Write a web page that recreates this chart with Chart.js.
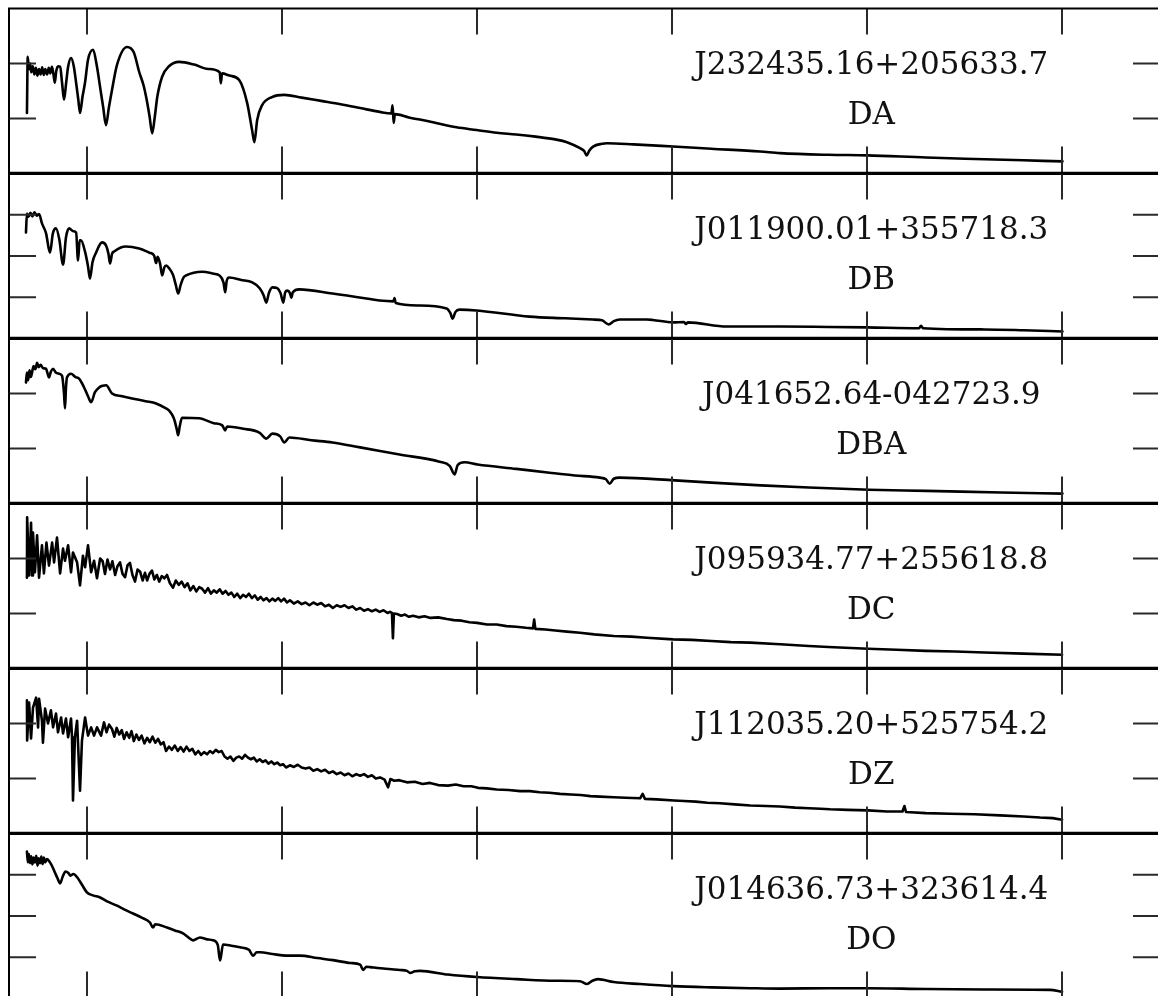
<!DOCTYPE html>
<html>
<head>
<meta charset="utf-8">
<title>White dwarf spectra</title>
<script src="https://cdn.jsdelivr.net/npm/chart.js@4.4.1/dist/chart.umd.min.js"></script>
<style>
  html, body { margin: 0; padding: 0; background: #fff; overflow: hidden; }
  #stack { position: relative; width: 1158px; height: 996px; overflow: hidden; }
  #stack canvas { position: absolute; left: 0; }
</style>
</head>
<body>
<div id="stack"></div>
<script>
// Wavelength axis (Angstrom) and tick marks
const waveMin = 3600;
const waveMax = 9500;
const waveTicks = [4000, 5000, 6000, 7000, 8000, 9000];

// Object designations and spectral classes, top to bottom
const objectNames = ['J232435.16+205633.7', 'J011900.01+355718.3', 'J041652.64-042723.9',
                     'J095934.77+255618.8', 'J112035.20+525754.2', 'J014636.73+323614.4'];
const spectralClasses = ['DA', 'DB', 'DBA', 'DC', 'DZ', 'DO'];

// Flux range and flux tick values of each panel (arbitrary flux units)
const fluxMax = [3, 4, 3, 3, 3, 4];
const fluxTicks = [[1, 2], [1, 2, 3], [1, 2], [1, 2], [1, 2], [1, 2, 3]];

// Spectra: [wavelength, flux]
const specDA = [[3692,1.10],[3696,2.12],[3702,1.90],[3708,2.00],[3714,1.84],[3722,1.95],[3730,1.80],[3738,1.92],[3746,1.78],[3754,1.90],[3762,1.80],[3770,1.93],[3778,1.79],[3786,1.90],[3795,1.80],[3804,1.92],[3812,1.82],[3820,1.94],[3828,1.80],[3835,1.65],[3842,1.86],[3852,1.95],[3862,1.94],[3872,1.65],[3882,1.34],[3893,1.65],[3903,1.94],[3918,2.10],[3932,1.95],[3944,1.65],[3955,1.35],[3964,1.10],[3977,1.40],[3990,1.66],[4005,2.07],[4031,2.25],[4051,1.94],[4067,1.57],[4083,1.20],[4097,0.88],[4112,1.20],[4128,1.52],[4154,1.98],[4205,2.30],[4240,2.20],[4267,1.85],[4290,1.60],[4303,1.39],[4320,1.05],[4334,0.73],[4348,1.05],[4360,1.39],[4385,1.76],[4420,1.95],[4472,2.03],[4550,1.98],[4620,1.90],[4680,1.84],[4686,1.64],[4692,1.82],[4730,1.78],[4780,1.70],[4821,1.28],[4846,0.79],[4858,0.57],[4872,0.97],[4897,1.24],[4948,1.39],[5011,1.43],[5100,1.38],[5200,1.32],[5300,1.26],[5400,1.19],[5500,1.12],[5560,1.09],[5566,1.24],[5572,0.92],[5578,1.08],[5650,1.02],[5750,0.95],[5894,0.84],[5997,0.79],[6100,0.74],[6200,0.71],[6300,0.67],[6400,0.62],[6460,0.57],[6527,0.46],[6548,0.41],[6561,0.33],[6575,0.42],[6594,0.49],[6640,0.54],[6665,0.55],[6800,0.53],[7003,0.49],[7200,0.45],[7450,0.40],[7552,0.37],[7800,0.34],[8000,0.33],[8300,0.29],[8600,0.26],[8800,0.24],[9000,0.22]];

const specDB = [[3687,2.57],[3692,3.03],[3700,2.95],[3710,3.05],[3720,2.96],[3730,3.06],[3742,2.98],[3754,3.02],[3769,2.79],[3790,2.55],[3810,2.08],[3825,2.55],[3841,2.67],[3858,2.40],[3877,1.79],[3892,2.45],[3908,2.67],[3930,2.60],[3944,2.57],[3954,1.89],[3962,2.38],[3969,2.38],[3990,2.10],[4005,1.75],[4015,1.45],[4028,1.85],[4046,2.08],[4077,2.33],[4098,2.25],[4110,2.05],[4118,1.82],[4128,2.05],[4139,2.11],[4200,2.23],[4267,2.18],[4320,2.08],[4344,2.01],[4354,1.83],[4362,1.98],[4375,1.80],[4385,1.53],[4396,1.72],[4406,1.77],[4421,1.70],[4440,1.55],[4455,1.30],[4467,1.09],[4480,1.30],[4495,1.48],[4508,1.53],[4590,1.62],[4650,1.57],[4678,1.53],[4700,1.35],[4708,1.12],[4716,1.40],[4729,1.48],[4790,1.42],[4847,1.36],[4885,1.22],[4905,1.05],[4919,0.87],[4932,1.10],[4950,1.24],[4975,1.22],[4992,1.10],[5006,0.87],[5016,1.12],[5027,1.16],[5040,1.10],[5047,0.99],[5055,1.12],[5088,1.19],[5258,1.09],[5432,0.97],[5499,0.92],[5570,0.90],[5576,0.98],[5582,0.86],[5700,0.80],[5843,0.73],[5862,0.62],[5874,0.48],[5888,0.64],[5909,0.70],[5997,0.68],[6269,0.53],[6450,0.49],[6592,0.46],[6640,0.44],[6674,0.34],[6700,0.42],[6731,0.46],[6869,0.46],[6900,0.45],[7003,0.39],[7060,0.40],[7070,0.35],[7080,0.39],[7280,0.29],[7552,0.29],[7800,0.28],[8000,0.27],[8265,0.25],[8275,0.31],[8285,0.25],[8600,0.22],[8800,0.20],[9000,0.17]];

const specDBA = [[3687,2.20],[3692,2.38],[3698,2.24],[3705,2.42],[3712,2.30],[3718,2.38],[3726,2.50],[3735,2.44],[3744,2.56],[3752,2.48],[3762,2.52],[3775,2.46],[3790,2.45],[3798,2.36],[3805,2.29],[3815,2.40],[3826,2.45],[3840,2.38],[3856,2.36],[3872,2.32],[3882,2.00],[3887,1.73],[3892,2.10],[3897,2.29],[3918,2.36],[3940,2.30],[3959,2.27],[3972,2.20],[3985,2.11],[4005,1.95],[4021,1.84],[4040,2.02],[4062,2.11],[4080,2.14],[4098,2.15],[4128,2.00],[4180,1.95],[4231,1.91],[4300,1.86],[4354,1.82],[4400,1.74],[4421,1.69],[4445,1.55],[4460,1.35],[4467,1.24],[4475,1.40],[4487,1.56],[4575,1.55],[4650,1.46],[4693,1.42],[4708,1.33],[4718,1.40],[4800,1.36],[4883,1.29],[4919,1.18],[4950,1.27],[4990,1.22],[5011,1.11],[5037,1.20],[5150,1.15],[5258,1.11],[5400,1.02],[5602,0.89],[5807,0.76],[5860,0.68],[5884,0.53],[5900,0.70],[5935,0.75],[6002,0.71],[6200,0.63],[6371,0.56],[6500,0.51],[6628,0.47],[6660,0.44],[6679,0.36],[6700,0.45],[6730,0.47],[7013,0.42],[7200,0.38],[7454,0.33],[7700,0.29],[8008,0.25],[8300,0.23],[8686,0.20],[9000,0.18]];

const specDC = [[3692,1.65],[3693,2.75],[3703,1.69],[3713,2.65],[3718,1.69],[3723,2.47],[3733,1.75],[3744,2.42],[3754,1.65],[3769,2.24],[3779,1.73],[3792,2.29],[3805,1.87],[3821,2.29],[3831,1.93],[3846,2.38],[3862,1.73],[3877,2.18],[3887,1.96],[3903,2.24],[3918,1.75],[3928,2.11],[3949,1.93],[3964,1.51],[3979,2.05],[3990,1.84],[4005,2.24],[4021,1.75],[4036,1.96],[4051,1.64],[4067,2.00],[4080,1.95],[4092,1.72],[4105,1.98],[4118,1.80],[4130,1.95],[4144,1.70],[4156,1.86],[4169,1.93],[4182,1.72],[4195,1.66],[4208,1.88],[4220,1.92],[4233,1.70],[4246,1.58],[4259,1.80],[4272,1.76],[4285,1.60],[4297,1.74],[4308,1.60],[4320,1.72],[4333,1.78],[4345,1.62],[4358,1.70],[4370,1.58],[4383,1.68],[4396,1.64],[4410,1.70],[4425,1.55],[4441,1.47],[4455,1.60],[4470,1.52],[4485,1.58],[4500,1.48],[4515,1.55],[4530,1.42],[4545,1.50],[4560,1.40],[4575,1.48],[4590,1.45],[4605,1.38],[4620,1.46],[4635,1.36],[4650,1.42],[4665,1.38],[4680,1.44],[4695,1.36],[4710,1.41],[4725,1.34],[4740,1.38],[4755,1.30],[4770,1.36],[4785,1.28],[4800,1.34],[4815,1.30],[4830,1.36],[4845,1.28],[4860,1.33],[4875,1.25],[4890,1.30],[4905,1.24],[4920,1.28],[4935,1.22],[4950,1.27],[4965,1.23],[4980,1.28],[4995,1.22],[5010,1.27],[5025,1.20],[5040,1.24],[5060,1.18],[5080,1.22],[5100,1.17],[5120,1.20],[5140,1.15],[5160,1.20],[5180,1.16],[5200,1.19],[5220,1.13],[5240,1.16],[5260,1.10],[5280,1.15],[5300,1.12],[5320,1.15],[5340,1.10],[5360,1.13],[5380,1.07],[5400,1.10],[5420,1.05],[5440,1.08],[5460,1.04],[5480,1.07],[5500,1.03],[5520,1.06],[5540,1.01],[5553,1.03],[5563,1.01],[5568,0.55],[5573,1.00],[5590,0.99],[5610,0.96],[5630,0.98],[5650,0.94],[5671,0.96],[5700,0.93],[5730,0.95],[5760,0.92],[5800,0.93],[5845,0.90],[5880,0.88],[5920,0.87],[5960,0.84],[5999,0.83],[6050,0.80],[6100,0.80],[6150,0.77],[6200,0.76],[6250,0.74],[6286,0.73],[6292,0.89],[6298,0.72],[6350,0.71],[6400,0.69],[6460,0.67],[6527,0.65],[6600,0.62],[6700,0.59],[6790,0.58],[6870,0.56],[7004,0.53],[7100,0.52],[7200,0.50],[7300,0.48],[7400,0.47],[7553,0.44],[7700,0.41],[7800,0.39],[8004,0.36],[8150,0.34],[8300,0.32],[8450,0.31],[8600,0.29],[8800,0.27],[8998,0.25]];

const specDZ = [[3692,2.42],[3693,1.69],[3703,2.38],[3713,1.73],[3723,2.29],[3739,2.47],[3749,1.93],[3754,2.45],[3769,2.05],[3774,1.65],[3785,2.27],[3800,2.00],[3815,2.24],[3826,1.93],[3841,2.18],[3851,1.84],[3867,2.11],[3877,1.82],[3892,2.09],[3903,1.75],[3918,2.09],[3923,1.75],[3928,0.60],[3938,1.75],[3949,2.05],[3964,0.78],[3974,1.69],[3990,2.11],[4005,1.78],[4021,1.93],[4036,1.78],[4051,1.93],[4072,1.78],[4087,2.02],[4100,1.84],[4113,1.98],[4128,1.90],[4140,1.76],[4152,1.92],[4165,1.80],[4178,1.88],[4190,1.72],[4203,1.84],[4216,1.74],[4228,1.86],[4240,1.68],[4253,1.80],[4266,1.70],[4280,1.78],[4294,1.64],[4308,1.74],[4322,1.66],[4336,1.76],[4350,1.65],[4364,1.72],[4378,1.62],[4392,1.66],[4405,1.50],[4420,1.58],[4435,1.52],[4450,1.60],[4465,1.50],[4480,1.57],[4495,1.49],[4510,1.58],[4525,1.50],[4540,1.54],[4555,1.44],[4570,1.50],[4585,1.43],[4600,1.48],[4615,1.44],[4630,1.50],[4645,1.46],[4660,1.52],[4675,1.48],[4690,1.50],[4705,1.40],[4720,1.36],[4735,1.40],[4750,1.32],[4765,1.38],[4780,1.40],[4795,1.36],[4810,1.43],[4825,1.38],[4840,1.35],[4855,1.38],[4870,1.31],[4885,1.35],[4900,1.30],[4915,1.33],[4930,1.27],[4945,1.31],[4960,1.26],[4975,1.29],[4990,1.24],[5005,1.26],[5020,1.20],[5040,1.24],[5060,1.21],[5080,1.25],[5100,1.20],[5120,1.18],[5140,1.20],[5160,1.14],[5180,1.17],[5200,1.13],[5220,1.16],[5240,1.10],[5260,1.13],[5280,1.08],[5300,1.11],[5320,1.06],[5340,1.09],[5360,1.04],[5380,1.08],[5400,1.05],[5420,1.08],[5440,1.03],[5460,1.06],[5480,1.00],[5502,1.02],[5525,0.98],[5543,0.84],[5555,0.99],[5575,0.96],[5600,0.97],[5640,0.93],[5680,0.94],[5720,0.90],[5758,0.92],[5800,0.88],[5850,0.87],[5890,0.89],[5930,0.86],[5970,0.86],[6004,0.83],[6050,0.82],[6100,0.80],[6160,0.79],[6220,0.77],[6270,0.77],[6320,0.75],[6370,0.74],[6425,0.72],[6480,0.71],[6530,0.70],[6580,0.68],[6630,0.67],[6700,0.66],[6760,0.65],[6835,0.64],[6848,0.72],[6860,0.63],[6920,0.62],[7009,0.60],[7060,0.59],[7120,0.58],[7180,0.56],[7245,0.55],[7320,0.53],[7400,0.51],[7480,0.50],[7552,0.49],[7630,0.47],[7700,0.46],[7760,0.45],[7809,0.44],[7900,0.43],[8003,0.42],[8100,0.40],[8180,0.40],[8190,0.50],[8198,0.39],[8300,0.37],[8424,0.36],[8550,0.35],[8680,0.33],[8800,0.31],[8885,0.29],[8950,0.28],[8998,0.25]];

const specDO = [[3692,3.56],[3697,3.30],[3702,3.50],[3708,3.28],[3714,3.45],[3720,3.25],[3726,3.42],[3733,3.30],[3740,3.46],[3746,3.22],[3752,3.40],[3759,3.28],[3766,3.44],[3772,3.26],[3779,3.42],[3785,3.30],[3795,3.38],[3810,3.30],[3822,3.20],[3836,3.05],[3848,2.92],[3862,2.79],[3875,2.95],[3890,3.08],[3903,3.05],[3915,2.98],[3930,3.02],[3954,2.91],[3975,2.75],[4000,2.57],[4030,2.50],[4067,2.45],[4100,2.36],[4154,2.25],[4190,2.16],[4236,2.06],[4280,1.96],[4323,1.84],[4338,1.72],[4350,1.80],[4410,1.72],[4450,1.65],[4492,1.58],[4520,1.48],[4543,1.41],[4579,1.48],[4610,1.44],[4646,1.41],[4670,1.30],[4682,0.92],[4697,1.31],[4740,1.28],[4784,1.24],[4830,1.18],[4851,1.04],[4870,1.12],[4887,1.12],[4950,1.08],[5020,1.04],[5092,1.04],[5180,0.98],[5261,0.93],[5350,0.86],[5400,0.82],[5415,0.69],[5432,0.77],[5451,0.76],[5530,0.72],[5604,0.69],[5640,0.67],[5656,0.62],[5680,0.66],[5707,0.67],[5850,0.58],[5999,0.52],[6200,0.47],[6400,0.43],[6527,0.42],[6563,0.35],[6590,0.43],[6619,0.47],[6700,0.40],[6835,0.35],[7004,0.30],[7200,0.27],[7400,0.25],[7552,0.24],[7800,0.25],[7998,0.25],[8300,0.23],[8600,0.22],[8936,0.21],[8998,0.16]];

const spectra = [specDA, specDB, specDBA, specDC, specDZ, specDO];
// Noisy, featureless spectra are joined point to point; the rest are drawn smoothly
const smoothCurve = [true, true, true, false, false, true];

// Panel geometry (CSS px)
const PANEL_H = 165;
const FIRST_TOP = 8.5;
const CANVAS_W = 1170;
const CANVAS_H = 175;
const AREA_LEFT = 9;
const AREA_RIGHT = 1160;
const TICK_LEN = 27;
const LABEL_WAVE = 8020;

// Frame, inward tick marks and the two-line object label of each panel
const panelDecor = {
  id: 'panelDecor',
  afterDatasetsDraw(chart, args, opts) {
    const { ctx, chartArea: a, scales } = chart;
    const xs = scales.x, ys = scales.y;
    ctx.save();

    ctx.strokeStyle = '#2a2a2a';
    ctx.lineWidth = 2;
    ctx.beginPath();
    for (const w of waveTicks) {
      const px = Math.round(xs.getPixelForValue(w));
      ctx.moveTo(px, a.top); ctx.lineTo(px, a.top + TICK_LEN - 1);
      ctx.moveTo(px, a.bottom - TICK_LEN); ctx.lineTo(px, a.bottom);
    }
    for (const f of opts.fluxTicks) {
      const py = ys.getPixelForValue(f);
      ctx.moveTo(a.left, py); ctx.lineTo(a.left + TICK_LEN, py);
      ctx.moveTo(a.right - TICK_LEN, py); ctx.lineTo(a.right, py);
    }
    ctx.stroke();

    ctx.strokeStyle = '#000';
    ctx.lineWidth = 2;
    ctx.beginPath();
    ctx.moveTo(a.left, a.top - 1); ctx.lineTo(a.left, a.bottom + 1);
    ctx.moveTo(a.right, a.top - 1); ctx.lineTo(a.right, a.bottom + 1);
    ctx.moveTo(a.left, a.top); ctx.lineTo(a.right, a.top);
    ctx.stroke();
    ctx.lineWidth = 3.4;
    ctx.beginPath();
    ctx.moveTo(a.left, a.bottom); ctx.lineTo(a.right, a.bottom);
    ctx.stroke();

    const cx = xs.getPixelForValue(LABEL_WAVE);
    ctx.fillStyle = '#111';
    ctx.font = '31px "DejaVu Serif", serif';
    ctx.textAlign = 'center';
    ctx.textBaseline = 'alphabetic';
    ctx.fillText(opts.name, cx, a.top + 65.5);
    ctx.fillText(opts.cls, cx, a.top + 115);
    ctx.restore();
  }
};

const stack = document.getElementById('stack');
spectra.forEach((spec, i) => {
  const canvas = document.createElement('canvas');
  canvas.width = CANVAS_W;
  canvas.height = CANVAS_H;
  canvas.style.width = CANVAS_W + 'px';
  canvas.style.height = CANVAS_H + 'px';
  canvas.style.top = (i * PANEL_H) + 'px';
  stack.appendChild(canvas);

  new Chart(canvas, {
    type: 'line',
    data: {
      datasets: [{
        data: spec.map(p => ({ x: p[0], y: p[1] })),
        borderColor: '#000',
        borderWidth: 2.6,
        pointRadius: 0,
        cubicInterpolationMode: smoothCurve[i] ? 'monotone' : 'default',
        tension: 0,
        fill: false,
        borderJoinStyle: 'round',
        borderCapStyle: 'round'
      }]
    },
    options: {
      responsive: false,
      animation: false,
      devicePixelRatio: 1,
      events: [],
      layout: {
        padding: {
          left: AREA_LEFT,
          right: CANVAS_W - AREA_RIGHT,
          top: FIRST_TOP,
          bottom: CANVAS_H - FIRST_TOP - PANEL_H
        }
      },
      scales: {
        x: { type: 'linear', min: waveMin, max: waveMax, display: false },
        y: { type: 'linear', min: 0, max: fluxMax[i], display: false }
      },
      plugins: {
        legend: { display: false },
        tooltip: { enabled: false },
        panelDecor: {
          fluxTicks: fluxTicks[i],
          name: objectNames[i],
          cls: spectralClasses[i]
        }
      }
    },
    plugins: [panelDecor]
  });
});
</script>
</body>
</html>
